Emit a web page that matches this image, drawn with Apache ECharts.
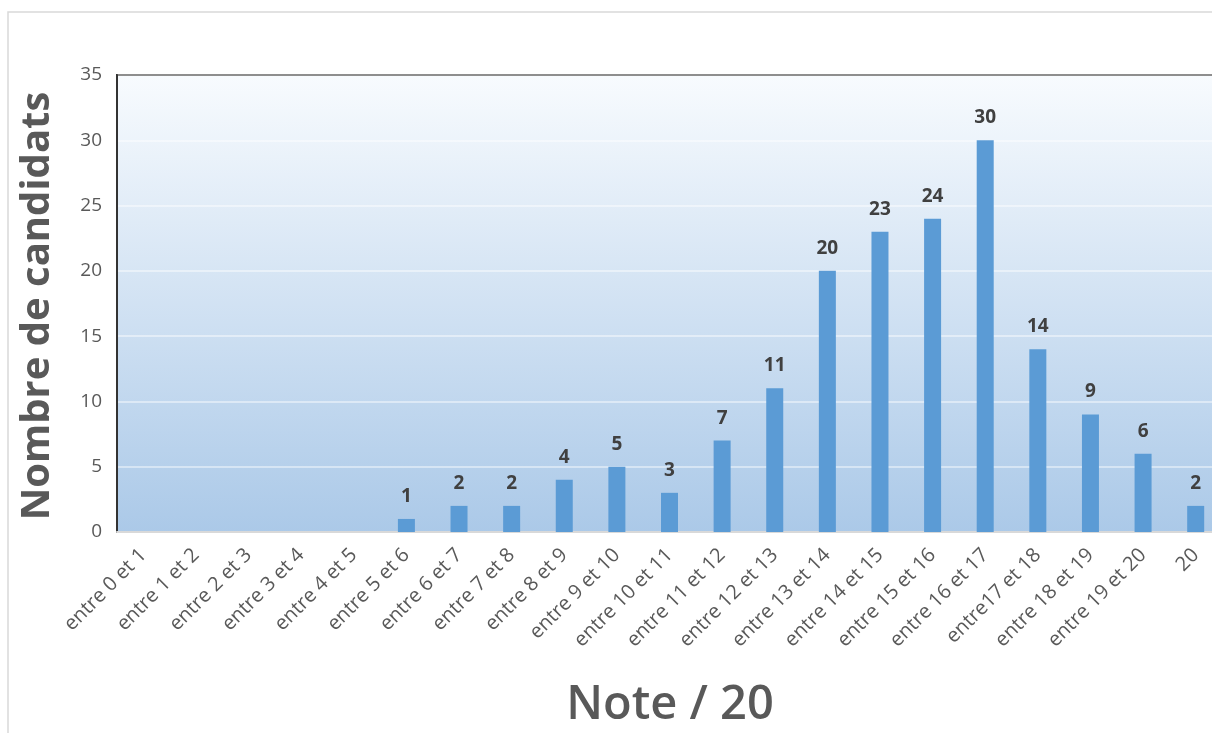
<!DOCTYPE html>
<html><head><meta charset="utf-8">
<script src="https://cdn.jsdelivr.net/npm/echarts@6/dist/echarts.min.js"></script>
<style>html,body{margin:0;padding:0;overflow:hidden;background:#fff}#c{width:1230px;height:733px}</style>
</head><body><div id="c"></div>
<script>
const categories = ['entre 0 et 1','entre 1 et 2','entre 2 et 3','entre 3 et 4','entre 4 et 5','entre 5 et 6','entre 6 et 7','entre 7 et 8','entre 8 et 9','entre 9 et 10','entre 10 et 11','entre 11 et 12','entre 12 et 13','entre 13 et 14','entre 14 et 15','entre 15 et 16','entre 16 et 17','entre17 et 18','entre 18 et 19','entre 19 et 20','20'];
const candidats = [null,null,null,null,null,1,2,2,4,5,3,7,11,20,23,24,30,14,9,6,2];
const yTitle = 'Nombre de candidats';
const xTitle = 'Note / 20';
const font = '"Open Sans", "Noto Sans", sans-serif';
const chart = echarts.init(document.getElementById('c'));
chart.setOption({
  animation:false,
  graphic:[
    {type:'rect', shape:{x:8,y:12,width:1300,height:800}, style:{fill:'none',stroke:'#d9d9d9',lineWidth:1.5}, z:-10},
    {type:'text', x:670, y:706, style:{text:xTitle, align:'center', verticalAlign:'middle', font:'600 47px '+font, fill:'#595959'}},
    {type:'text', rotation:Math.PI/2, x:38, y:306, style:{text:yTitle, align:'center', verticalAlign:'middle', font:'bold 40px '+font, fill:'#595959'}}
  ],
  grid:{left:117,right:8,top:75,bottom:201,show:true,borderColor:'#333',borderWidth:2,
    backgroundColor:new echarts.graphic.LinearGradient(0,0,0,1,[{offset:0,color:'#f8fbfe'},{offset:1,color:'#abc9e8'}])},
  xAxis:{type:'category',data:categories,
    axisLine:{lineStyle:{color:'#d9d9d9',width:2}},axisTick:{show:false},
    axisLabel:{rotate:45,interval:0,fontSize:20,color:'#595959',fontFamily:font,margin:20}},
  yAxis:{type:'value',min:0,max:35,interval:5,
    axisLine:{show:true,lineStyle:{color:'#333',width:2}},axisTick:{show:false},
    axisLabel:{fontSize:19,color:'#595959',fontFamily:font,margin:15},
    splitLine:{lineStyle:{color:'rgba(255,255,255,0.6)',width:1.5}}},
  series:[{type:'bar',data:candidats,barWidth:17,
    itemStyle:{color:'#5b9bd5'},
    label:{show:true,position:'top',distance:13,fontSize:19,fontWeight:'bold',color:'#404040',fontFamily:font}}]
});
</script></body></html>
